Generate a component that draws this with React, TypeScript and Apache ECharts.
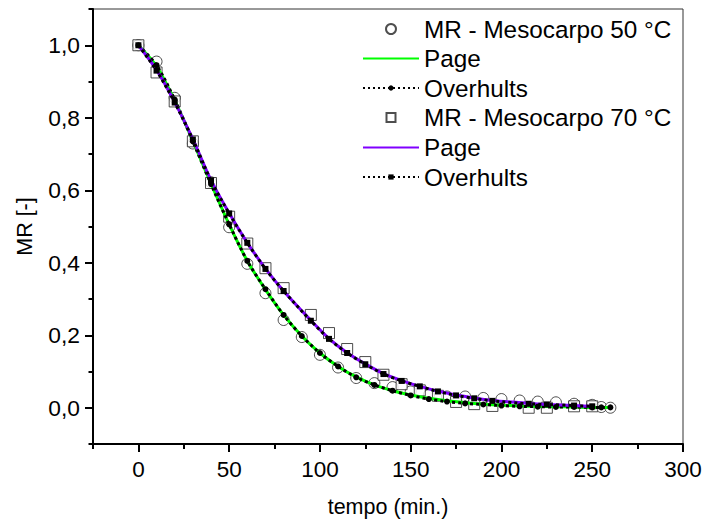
import React, { useEffect, useRef } from "react";
import * as echarts from "echarts";

// 50 °C experimental data (time in min, MR)
const T50 = [0, 10, 20, 30, 40, 50, 60, 70, 80, 90, 100, 110, 120, 130, 140, 150, 160, 170, 180, 190, 200, 210, 220, 230, 240, 250, 255, 260];
const MR50 = [1.0, 0.955, 0.855, 0.729, 0.622, 0.498, 0.397, 0.316, 0.242, 0.195, 0.146, 0.111, 0.082, 0.068, 0.057, 0.045, 0.035, 0.031, 0.031, 0.027, 0.024, 0.02, 0.017, 0.015, 0.011, 0.008, 0.002, 0.0];
const PAGE50 = [1.0, 0.942, 0.848, 0.736, 0.618, 0.506, 0.405, 0.326, 0.256, 0.198, 0.151, 0.114, 0.085, 0.063, 0.047, 0.035, 0.026, 0.019, 0.014, 0.01, 0.007, 0.005, 0.004, 0.003, 0.002, 0.001, 0.001, 0.001];
const OVERHULTS50 = [1.0, 0.945, 0.85, 0.735, 0.617, 0.506, 0.405, 0.327, 0.256, 0.198, 0.151, 0.114, 0.084, 0.063, 0.047, 0.034, 0.024, 0.017, 0.012, 0.009, 0.006, 0.004, 0.003, 0.002, 0.002, 0.001, 0.001, 0.001];

// 70 °C experimental data
const T70 = [0, 10, 20, 30, 40, 50, 60, 70, 80, 95, 105, 115, 125, 135, 145, 155, 165, 175, 185, 195, 215, 225, 240, 250];
const MR70 = [1.0, 0.925, 0.845, 0.735, 0.62, 0.527, 0.453, 0.385, 0.33, 0.256, 0.206, 0.162, 0.126, 0.091, 0.065, 0.048, 0.033, 0.016, 0.01, 0.005, 0.0, 0.0, 0.004, 0.004];
const PAGE70 = [1.0, 0.932, 0.843, 0.741, 0.628, 0.537, 0.455, 0.384, 0.322, 0.241, 0.191, 0.152, 0.121, 0.094, 0.075, 0.059, 0.046, 0.035, 0.027, 0.02, 0.012, 0.009, 0.006, 0.004];
const OVERHULTS70 = [1.0, 0.93, 0.842, 0.74, 0.627, 0.536, 0.455, 0.383, 0.322, 0.24, 0.19, 0.151, 0.12, 0.093, 0.074, 0.059, 0.045, 0.034, 0.026, 0.019, 0.011, 0.009, 0.006, 0.004];

// axis tick labels
const X_TICKS = [0, 50, 100, 150, 200, 250, 300];
const Y_TICKS = [0, 0.2, 0.4, 0.6, 0.8, 1.0];

const SERIES_NAMES = [
  "MR - Mesocarpo 50 °C",
  "Page|50",
  "Overhults|50",
  "MR - Mesocarpo 70 °C",
  "Page|70",
  "Overhults|70",
];
const X_TITLE = "tempo (min.)";
const Y_TITLE = "MR [-]";

const FONT = "Arial, 'Liberation Sans', sans-serif";

const zip = (xs: number[], ys: number[]) => xs.map((x, i) => [x, ys[i]]);

export default function App() {
  const ref = useRef<HTMLDivElement>(null);
  useEffect(() => {
    document.body.style.margin = "0";
    const chart = echarts.init(ref.current!, undefined, { renderer: "svg" });
    const legendText = { fontSize: 24.3, color: "#000", fontFamily: FONT, lineHeight: 24 };
    const fmt = (n: string) => n.split("|")[0];
    const legendRow = (data: any, left: number, center: number, itemHeight: number, extra: any = {}) => ({
      data: [data],
      left,
      top: center - 13,
      orient: "vertical",
      itemWidth: 56,
      itemHeight,
      padding: 0,
      itemGap: 0,
      selectedMode: false,
      textStyle: legendText,
      formatter: fmt,
      ...extra,
    });
    const axisLineStyle = { color: "#000", width: 2 };
    const option: any = {
      animation: false,
      backgroundColor: "#fff",
      grid: {
        left: 93,
        right: 21,
        top: 9,
        bottom: 75,
        outerBoundsMode: "none",
        containLabel: false,
        show: true,
        borderColor: "#333",
        borderWidth: 1,
      },
      legend: [
        legendRow({ name: SERIES_NAMES[0], icon: "circle" }, 385, 30, 10),
        legendRow(SERIES_NAMES[1], 362, 59.5, 8, { itemStyle: { opacity: 0 } }),
        legendRow(SERIES_NAMES[2], 362, 89, 6.5, { lineStyle: { width: 2, type: [2, 3] } }),
        legendRow({ name: SERIES_NAMES[3], icon: "path://M0,0L10,0L10,10L0,10Z" }, 385.5, 118.5, 9),
        legendRow(SERIES_NAMES[4], 362, 148.5, 8, { itemStyle: { opacity: 0 } }),
        legendRow(SERIES_NAMES[5], 362, 178, 6.5, { lineStyle: { width: 2, type: [2, 3] } }),
      ],
      xAxis: [
        {
          type: "value",
          min: -25,
          max: 300,
          interval: 25,
          position: "bottom",
          axisLine: { show: true, onZero: false, lineStyle: axisLineStyle },
          axisTick: { show: true, length: 5, lineStyle: { color: "#000", width: 2 } },
          axisLabel: { show: false },
          splitLine: { show: false },
        },
        {
          type: "value",
          min: -25,
          max: 300,
          position: "bottom",
          name: X_TITLE,
          nameLocation: "middle",
          nameGap: 52,
          nameTextStyle: { fontSize: 21.5, color: "#000", fontFamily: FONT },
          axisLine: { show: false, onZero: false },
          axisTick: { show: true, length: 8, customValues: X_TICKS, lineStyle: { color: "#000", width: 2 } },
          axisLabel: {
            show: true,
            customValues: X_TICKS,
            margin: 14,
            fontSize: 22.5,
            color: "#000",
            fontFamily: FONT,
            formatter: (v: number) => String(v),
          },
          splitLine: { show: false },
        },
      ],
      yAxis: [
        {
          type: "value",
          min: -0.1,
          max: 1.1,
          interval: 0.1,
          position: "left",
          axisLine: { show: true, onZero: false, lineStyle: axisLineStyle },
          axisTick: { show: true, length: 4.5, lineStyle: { color: "#000", width: 2 } },
          axisLabel: { show: false },
          splitLine: { show: false },
        },
        {
          type: "value",
          min: -0.1,
          max: 1.1,
          position: "left",
          name: Y_TITLE,
          nameLocation: "middle",
          nameGap: 57.5,
          nameTextStyle: { fontSize: 21.5, color: "#000", fontFamily: FONT },
          axisLine: { show: false, onZero: false },
          axisTick: { show: true, length: 8, customValues: Y_TICKS, lineStyle: { color: "#000", width: 2 } },
          axisLabel: {
            show: true,
            customValues: Y_TICKS,
            margin: 13,
            fontSize: 22.8,
            color: "#000",
            fontFamily: FONT,
            formatter: (v: number) => v.toFixed(1).replace(".", ","),
          },
          splitLine: { show: false },
        },
      ],
      series: [
        {
          name: SERIES_NAMES[0],
          type: "scatter",
          data: zip(T50, MR50),
          symbol: "circle",
          symbolSize: 11,
          itemStyle: { color: "#fff", borderColor: "#222", borderWidth: 1 },
        },
        {
          name: SERIES_NAMES[1],
          type: "line",
          data: zip(T50, PAGE50),
          symbol: "none",
          smooth: 0.3,
          lineStyle: { color: "#00ff00", width: 3 },
          itemStyle: { color: "#00ff00" },
        },
        {
          name: SERIES_NAMES[2],
          type: "line",
          data: zip(T50, OVERHULTS50),
          symbol: "circle",
          symbolSize: 6,
          smooth: 0.3,
          lineStyle: { color: "#000", width: 3, type: [3, 3] },
          itemStyle: { color: "#000" },
        },
        {
          name: SERIES_NAMES[3],
          type: "scatter",
          data: zip(T70, MR70),
          symbol: "rect",
          symbolSize: 11,
          itemStyle: { color: "#fff", borderColor: "#222", borderWidth: 1 },
        },
        {
          name: SERIES_NAMES[4],
          type: "line",
          data: zip(T70, PAGE70),
          symbol: "none",
          smooth: 0.3,
          lineStyle: { color: "#8000ff", width: 3 },
          itemStyle: { color: "#8000ff" },
        },
        {
          name: SERIES_NAMES[5],
          type: "line",
          data: zip(T70, OVERHULTS70),
          symbol: "rect",
          symbolSize: 6,
          smooth: 0.3,
          lineStyle: { color: "#000", width: 3, type: [3, 3] },
          itemStyle: { color: "#000" },
        },
      ],
    };
    chart.setOption(option);
    return () => chart.dispose();
  }, []);
  return <div ref={ref} style={{ width: 704, height: 519 }} />;
}
